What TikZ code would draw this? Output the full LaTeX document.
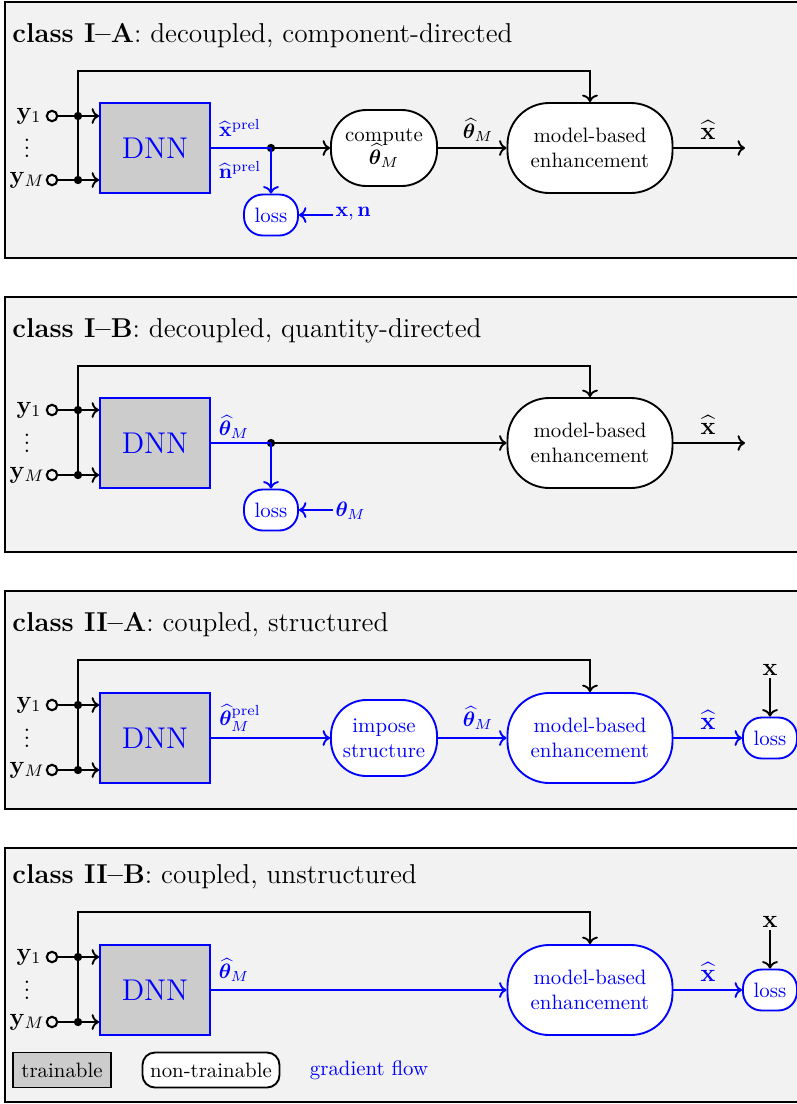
\documentclass[tikz,border=0pt]{standalone}
\usepackage{amsmath,bm}
\usetikzlibrary{arrows.meta}
\definecolor{panelgray}{HTML}{F2F2F2}
\definecolor{dnngray}{HTML}{CCCCCC}
\def\u{0.48pt}
\tikzset{
  panel/.style={draw=black, fill=panelgray, line width=0.8pt},
  ttl/.style={anchor=base west, font=\fontsize{13.1}{15}\selectfont, inner sep=0pt},
  dnn/.style={draw=blue, fill=dnngray, line width=0.9pt, minimum width=110*\u, minimum height=90*\u, font=\Large, text=blue, inner sep=0pt},
  mb/.style={draw, fill=white, rounded corners=20pt, minimum width=165*\u, minimum height=90*\u, align=center, line width=0.9pt, inner sep=0pt},
  cmp/.style={draw, fill=white, rounded corners=17pt, minimum width=106*\u, minimum height=76*\u, align=center, line width=0.9pt, inner sep=0pt},
  lossbox/.style={draw=blue, fill=white, text=blue, rounded corners=9pt, minimum width=54*\u, minimum height=41*\u, line width=0.9pt, inner sep=0pt},
  conn/.style={line width=0.9pt, ->},
  wire/.style={line width=0.9pt},
  termc/.style={circle, draw, line width=1pt, inner sep=0pt, minimum size=5pt},
  jdot/.style={circle, fill=black, inner sep=0pt, minimum size=4pt},
  lbl/.style={inner sep=1pt},
  big/.style={inner sep=1pt, font=\large},
}
\begin{document}
\begin{tikzpicture}[x=0.48pt, y=-0.48pt]
\useasboundingbox (0,0) rectangle (797,1104);

% ================= Panel 1 =================
\draw[panel] (5,2) rectangle (801,258);
\node[ttl] (t1) at (12,42) {\textbf{class I--A}: decoupled, component-directed};
\node[dnn] (d1) at (155,148) {DNN};
\node[cmp] (c1) at (384,148) {compute\\[-1pt]$\widehat{\boldsymbol{\theta}}_M$};
\node[mb] (m1) at (590,148) {model-based\\enhancement};
\node[lossbox] (l1) at (271,215) {loss};
\node[big] (ya1) at (29,116) {$\mathbf{y}_1$};
\node[big] (yb1) at (27,180) {$\mathbf{y}_M$};
\node[big] (vd1) at (27,142) {$\vdots$};
\node[termc] (ta1) at (52,116) {};
\node[termc] (tb1) at (52,180) {};
\node[jdot] (ka1) at (78,116) {};
\node[jdot] (kb1) at (78,180) {};
\coordinate (top1) at (78,71);
\node[jdot] (j1) at (271,148) {};
\coordinate (o1) at (745,148);
\draw[conn] (ta1.east) -- (d1.west |- ta1);
\draw[conn] (tb1.east) -- (d1.west |- tb1);
\draw[conn] (kb1.center) -- (top1) -| (m1.north);
\draw[wire, blue] (d1.east) -- (j1.center);
\draw[conn] (j1.center) -- (c1.west);
\draw[conn, blue] (j1.center) -- (l1.north);
\draw[conn] (c1.east) -- (m1.west);
\draw[conn] (m1.east) -- (o1);
\node[lbl, text=blue] (xp1) at (240,128) {$\widehat{\mathbf{x}}^{\mathrm{prel}}$};
\node[lbl, text=blue] (np1) at (240,170) {$\widehat{\mathbf{n}}^{\mathrm{prel}}$};
\node[lbl] (th1) at (478,130) {$\widehat{\boldsymbol{\theta}}_M$};
\node[big] (xh1) at (708,130) {$\widehat{\mathbf{x}}$};
\node[lbl, anchor=west, text=blue] (xn1) at (333,214) {$\mathbf{x},\mathbf{n}$};
\draw[conn, blue] (xn1.west |- l1.east) -- (l1.east);

% ================= Panel 2 =================
\draw[panel] (5,297) rectangle (801,552);
\node[ttl] (t2) at (12,337) {\textbf{class I--B}: decoupled, quantity-directed};
\node[dnn] (d2) at (155,443) {DNN};
\node[mb] (m2) at (590,443) {model-based\\enhancement};
\node[lossbox] (l2) at (271,510) {loss};
\node[big] (ya2) at (29,410) {$\mathbf{y}_1$};
\node[big] (yb2) at (27,475) {$\mathbf{y}_M$};
\node[big] (vd2) at (27,437) {$\vdots$};
\node[termc] (ta2) at (52,410) {};
\node[termc] (tb2) at (52,475) {};
\node[jdot] (ka2) at (78,410) {};
\node[jdot] (kb2) at (78,475) {};
\coordinate (top2) at (78,366);
\node[jdot] (j2) at (271,443) {};
\coordinate (o2) at (745,443);
\draw[conn] (ta2.east) -- (d2.west |- ta2);
\draw[conn] (tb2.east) -- (d2.west |- tb2);
\draw[conn] (kb2.center) -- (top2) -| (m2.north);
\draw[wire, blue] (d2.east) -- (j2.center);
\draw[conn] (j2.center) -- (m2.west);
\draw[conn, blue] (j2.center) -- (l2.north);
\draw[conn] (m2.east) -- (o2);
\node[lbl, text=blue] (th2) at (234,427) {$\widehat{\boldsymbol{\theta}}_M$};
\node[big] (xh2) at (708,425) {$\widehat{\mathbf{x}}$};
\node[lbl, anchor=west, text=blue] (tt2) at (333,511) {$\boldsymbol{\theta}_M$};
\draw[conn, blue] (tt2.west |- l2.east) -- (l2.east);

% ================= Panel 3 =================
\draw[panel] (5,591) rectangle (801,809);
\node[ttl] (t3) at (12,631) {\textbf{class II--A}: coupled, structured};
\node[dnn] (d3) at (155,738) {DNN};
\node[cmp, draw=blue, text=blue] (c3) at (384,738) {impose\\structure};
\node[mb, draw=blue, text=blue] (m3) at (590,738) {model-based\\enhancement};
\node[lossbox] (l3) at (770,738) {loss};
\node[big] (ya3) at (29,705) {$\mathbf{y}_1$};
\node[big] (yb3) at (27,770) {$\mathbf{y}_M$};
\node[big] (vd3) at (27,732) {$\vdots$};
\node[termc] (ta3) at (52,705) {};
\node[termc] (tb3) at (52,770) {};
\node[jdot] (ka3) at (78,705) {};
\node[jdot] (kb3) at (78,770) {};
\coordinate (top3) at (78,660);
\draw[conn] (ta3.east) -- (d3.west |- ta3);
\draw[conn] (tb3.east) -- (d3.west |- tb3);
\draw[conn] (kb3.center) -- (top3) -| (m3.north);
\draw[conn, blue] (d3.east) -- (c3.west);
\draw[conn, blue] (c3.east) -- (m3.west);
\draw[conn, blue] (m3.east) -- (l3.west);
\node[lbl, text=blue] (tp3) at (240,718) {$\widehat{\boldsymbol{\theta}}_M^{\mathrm{prel}}$};
\node[lbl, text=blue] (th3) at (478,718) {$\widehat{\boldsymbol{\theta}}_M$};
\node[big, text=blue] (xh3) at (708,720) {$\widehat{\mathbf{x}}$};
\node[big] (x3) at (770,670) {$\mathbf{x}$};
\draw[conn] (x3.south) -- (l3.north);

% ================= Panel 4 =================
\draw[panel] (5,848) rectangle (801,1102);
\node[ttl] (t4) at (12,883) {\textbf{class II--B}: coupled, unstructured};
\node[dnn] (d4) at (155,990) {DNN};
\node[mb, draw=blue, text=blue] (m4) at (590,990) {model-based\\enhancement};
\node[lossbox] (l4) at (770,990) {loss};
\node[big] (ya4) at (29,957) {$\mathbf{y}_1$};
\node[big] (yb4) at (27,1022) {$\mathbf{y}_M$};
\node[big] (vd4) at (27,984) {$\vdots$};
\node[termc] (ta4) at (52,957) {};
\node[termc] (tb4) at (52,1022) {};
\node[jdot] (ka4) at (78,957) {};
\node[jdot] (kb4) at (78,1022) {};
\coordinate (top4) at (78,912);
\draw[conn] (ta4.east) -- (d4.west |- ta4);
\draw[conn] (tb4.east) -- (d4.west |- tb4);
\draw[conn] (kb4.center) -- (top4) -| (m4.north);
\draw[conn, blue] (d4.east) -- (m4.west);
\draw[conn, blue] (m4.east) -- (l4.west);
\node[lbl, text=blue] (th4) at (234,970) {$\widehat{\boldsymbol{\theta}}_M$};
\node[big, text=blue] (xh4) at (708,972) {$\widehat{\mathbf{x}}$};
\node[big] (x4) at (770,922) {$\mathbf{x}$};
\draw[conn] (x4.south) -- (l4.north);

% legend
\node[draw, fill=dnngray, line width=0.9pt, minimum width=98*\u, minimum height=35*\u, inner sep=0pt] (lg1) at (62,1070) {trainable};
\node[draw, fill=white, rounded corners=6pt, line width=0.9pt, minimum width=137*\u, minimum height=35*\u, inner sep=0pt] (lg2) at (211,1070) {non-trainable};
\node[text=blue, inner sep=0pt] (lg3) at (369,1070) {gradient flow};
\end{tikzpicture}
\end{document}
